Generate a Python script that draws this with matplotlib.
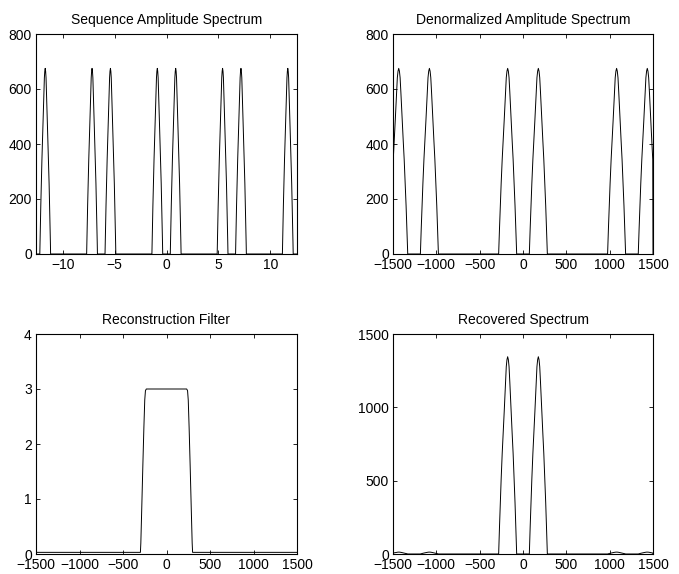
import matplotlib.pyplot as plt
import numpy as np

plt.rcParams['font.family'] = ['Liberation Sans', 'DejaVu Sans']
plt.rcParams['font.size'] = 10

# shape of one spectral pulse (offset from its centre in rad/s)
pulse_offset = [0, 8, 16, 25, 40, 52, 63, 75, 85, 94, 100, 104]
pulse_level = [1.0, 0.985, 0.95, 0.87, 0.72, 0.61, 0.51, 0.38, 0.26, 0.14, 0.06, 0.0]

Ts = 0.005  # sampling interval

# sequence spectrum (normalized frequency, rad)
seq_centres = [-11.68, -7.17, -5.40, -0.885, 0.885, 5.40, 7.17, 11.68]
seq_peak = 675

# denormalized spectrum (rad/s)
den_centres = [-1434, -1080, -177, 177, 1080, 1434]
den_peak = 675

# reconstruction filter
filt_w = [-1500, -300, -295, -285, -272, -260, -250, -242, -232,
          232, 242, 250, 260, 272, 285, 295, 300, 1500]
filt_gain = [0.03, 0.03, 0.2, 0.8, 1.6, 2.3, 2.8, 2.97, 3.0,
             3.0, 2.97, 2.8, 2.3, 1.6, 0.8, 0.2, 0.03, 0.03]

# recovered spectrum
rec_centres = [-1434, -1080, -177, 177, 1080, 1434]
rec_heights = [13, 13, 1345, 1345, 13, 13]


def pulses(centres, heights, lo, hi, scale=1.0):
    off = np.array(pulse_offset) * scale
    lev = np.array(pulse_level)
    xs = [lo, hi]
    ys = [0, 0]
    for c, h in zip(centres, heights):
        xs += list(c - off[::-1]) + list(c + off[1:])
        ys += list(h * lev[::-1]) + list(h * lev[1:])
    order = np.argsort(xs, kind='stable')
    return np.array(xs)[order], np.array(ys)[order]


fig = plt.figure(figsize=(6.79, 5.74), dpi=100)
W, H = 679, 574


def make_ax(l, t, r, b):
    ax = fig.add_axes([l / W, 1 - b / H, (r - l) / W, (b - t) / H])
    ax.tick_params(direction='in', length=3, width=0.6, top=True, right=True, pad=3,
                   labelsize=10)
    for s in ax.spines.values():
        s.set_linewidth(0.8)
    return ax


# top left
ax1 = make_ax(36, 34, 297, 254)
x, y = pulses(seq_centres, [seq_peak] * len(seq_centres), -13, 13, scale=Ts)
ax1.plot(x, y, color='black', lw=0.7)
ax1.set_xlim(-4 * np.pi, 4 * np.pi)
ax1.set_ylim(0, 800)
ax1.set_xticks([-10, -5, 0, 5, 10])
ax1.set_yticks([0, 200, 400, 600, 800])
ax1.set_title('Sequence Amplitude Spectrum', fontsize=10, pad=7)

# top right
ax2 = make_ax(393, 34, 653, 254)
x, y = pulses(den_centres, [den_peak] * len(den_centres), -1500, 1500)
ax2.plot(x, y, color='black', lw=0.7)
ax2.set_xlim(-1500, 1500)
ax2.set_ylim(0, 800)
ax2.set_xticks([-1500, -1000, -500, 0, 500, 1000, 1500])
ax2.set_yticks([0, 200, 400, 600, 800])
ax2.set_title('Denormalized Amplitude Spectrum', fontsize=10, pad=7)

# bottom left
ax3 = make_ax(36, 334, 297, 554)
ax3.plot(filt_w, filt_gain, color='black', lw=0.7)
ax3.set_xlim(-1500, 1500)
ax3.set_ylim(0, 4)
ax3.set_xticks([-1500, -1000, -500, 0, 500, 1000, 1500])
ax3.set_yticks([0, 1, 2, 3, 4])
ax3.set_title('Reconstruction Filter', fontsize=10, pad=7)

# bottom right
ax4 = make_ax(393, 334, 653, 554)
x, y = pulses(rec_centres, rec_heights, -1500, 1500)
ax4.plot(x, y, color='black', lw=0.7)
ax4.set_xlim(-1500, 1500)
ax4.set_ylim(0, 1500)
ax4.set_xticks([-1500, -1000, -500, 0, 500, 1000, 1500])
ax4.set_yticks([0, 500, 1000, 1500])
ax4.set_title('Recovered Spectrum', fontsize=10, pad=7)

fig.savefig('out.png', dpi=100)
